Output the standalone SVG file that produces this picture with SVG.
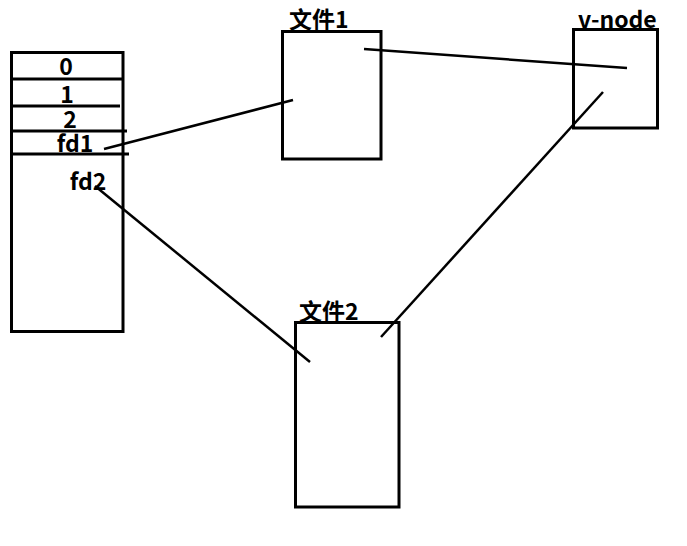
<svg xmlns="http://www.w3.org/2000/svg" width="687" height="546" viewBox="0 0 687 546">
<style>
.box{fill:none;stroke:#000;stroke-width:3}
.ln{stroke:#000;stroke-width:2.5;fill:none}
.t{font-family:"Noto Sans CJK SC","Noto Sans",sans-serif;font-weight:bold;font-size:23px;fill:#000}
</style>
<rect width="687" height="546" fill="#fff"/>
<g id="table">
<rect class="box" x="11.5" y="52.5" width="111.5" height="279"/>
<line class="box" x1="11" y1="79" x2="123" y2="79"/>
<line class="box" x1="11" y1="106" x2="120" y2="106"/>
<line class="box" x1="11" y1="131" x2="127" y2="131"/>
<line class="box" x1="11" y1="154" x2="129" y2="154"/>
<text class="t" x="66" y="75" text-anchor="middle">0</text>
<text class="t" x="67" y="103" text-anchor="middle">1</text>
<text class="t" x="70" y="128" text-anchor="middle">2</text>
<text class="t" x="75" y="152" text-anchor="middle">fd1</text>
<text class="t" x="88" y="190" text-anchor="middle">fd2</text>
</g>
<g id="file1">
<rect class="box" x="282.5" y="31.5" width="98.5" height="127.5"/>
<text class="t" x="289" y="28">文件1</text>
</g>
<g id="vnode">
<rect class="box" x="573.5" y="29.5" width="84" height="98.5"/>
<text class="t" x="578" y="28">v-node</text>
</g>
<g id="file2">
<rect class="box" x="295.5" y="322.5" width="103.5" height="184.5"/>
<text class="t" x="299" y="320">文件2</text>
</g>
<g id="connectors">
<line class="ln" x1="104" y1="149" x2="293" y2="100"/>
<line class="ln" x1="364" y1="49" x2="627" y2="68"/>
<line class="ln" x1="95" y1="186" x2="310" y2="362"/>
<line class="ln" x1="603" y1="92" x2="381" y2="337"/>
</g>
</svg>
